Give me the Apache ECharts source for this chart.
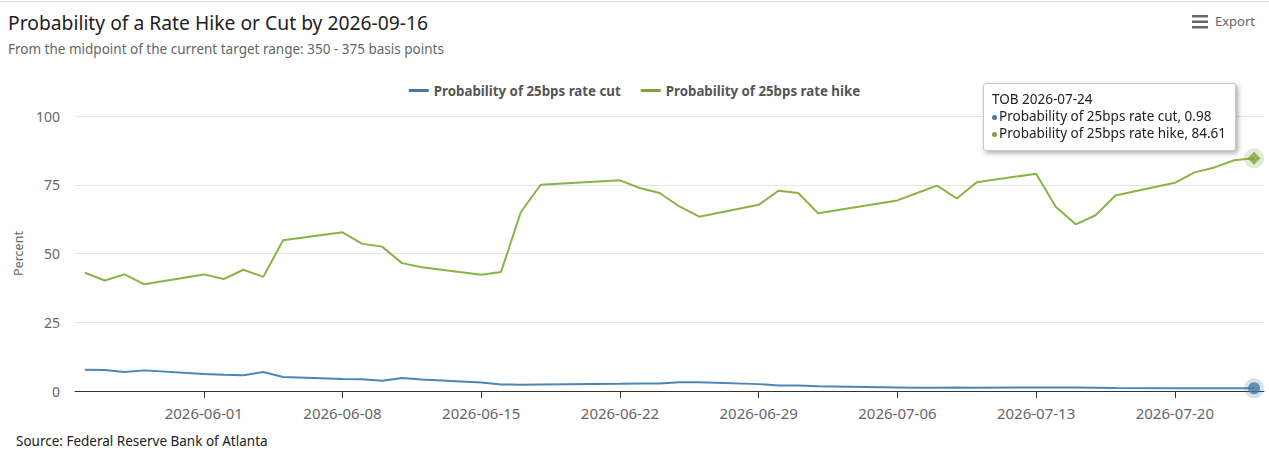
<!DOCTYPE html>
<html>
<head>
<meta charset="utf-8" />
<title>Probability of a Rate Hike or Cut</title>
<script src="https://cdn.jsdelivr.net/npm/echarts@6/dist/echarts.min.js"></script>
<style>
  html, body { margin: 0; padding: 0; background: #fff; }
  #main { width: 1269px; height: 456px; }
</style>
</head>
<body>
<div id="main"></div>
<script type="text/javascript">
// trading days (weekends and holidays have no data)
var dates = [
  '2026-05-26','2026-05-27','2026-05-28','2026-05-29',
  '2026-06-01','2026-06-02','2026-06-03','2026-06-04','2026-06-05',
  '2026-06-08','2026-06-09','2026-06-10','2026-06-11','2026-06-12',
  '2026-06-15','2026-06-16','2026-06-17','2026-06-18',
  '2026-06-22','2026-06-23','2026-06-24','2026-06-25','2026-06-26',
  '2026-06-29','2026-06-30','2026-07-01','2026-07-02',
  '2026-07-06','2026-07-07','2026-07-08','2026-07-09','2026-07-10',
  '2026-07-13','2026-07-14','2026-07-15','2026-07-16','2026-07-17',
  '2026-07-20','2026-07-21','2026-07-22','2026-07-23','2026-07-24'
];
var rateCut = [
  7.7, 7.6, 6.9, 7.5,
  6.2, 5.9, 5.7, 6.9, 5.1,
  4.4, 4.3, 3.7, 4.7, 4.2,
  3.1, 2.4, 2.3, 2.4,
  2.6, 2.7, 2.7, 3.2, 3.2,
  2.5, 2.0, 2.0, 1.7,
  1.3, 1.2, 1.2, 1.3, 1.2,
  1.3, 1.3, 1.3, 1.2, 1.1,
  1.0, 1.0, 1.0, 1.0, 0.98
];
var rateHike = [
  43.0, 40.2, 42.4, 38.8,
  42.4, 40.7, 44.1, 41.5, 54.8,
  57.7, 53.5, 52.5, 46.5, 45.0,
  42.3, 43.3, 65.1, 75.0,
  76.6, 73.8, 72.0, 67.1, 63.4,
  67.7, 72.8, 72.0, 64.6,
  69.3, 72.0, 74.7, 70.0, 75.9,
  79.0, 66.9, 60.6, 63.9, 71.1,
  75.7, 79.5, 81.3, 83.9, 84.61
];
var tickLabels = ['2026-06-01','2026-06-08','2026-06-15','2026-06-22','2026-06-29','2026-07-06','2026-07-13','2026-07-20'];
var yTicks = [0, 25, 50, 75, 100];

var cutName = 'Probability of 25bps rate cut';
var hikeName = 'Probability of 25bps rate hike';
var blue = '#4679a6';
var green = '#7fa23f';
var FONT = '"Noto Sans", sans-serif';

function pad(n) { return (n < 10 ? '0' : '') + n; }
// every calendar day from first to last date, so weekends keep their width
function calendarDays(a, b) {
  var p = a.split('-'), q = b.split('-');
  var d = new Date(+p[0], p[1] - 1, +p[2]);
  var end = new Date(+q[0], q[1] - 1, +q[2]);
  var res = [];
  while (d <= end) {
    res.push(d.getFullYear() + '-' + pad(d.getMonth() + 1) + '-' + pad(d.getDate()));
    d.setDate(d.getDate() + 1);
  }
  return res;
}
function pairs(vals) {
  var res = [];
  for (var i = 0; i < dates.length; i++) res.push([dates[i], vals[i]]);
  return res;
}
var last = dates.length - 1;
var days = calendarDays(dates[0], dates[last]);
var isTick = function (idx, val) { return tickLabels.indexOf(val) >= 0; };

var myChart = echarts.init(document.getElementById('main'), null, { renderer: 'svg' });

var option = {
  animation: false,
  backgroundColor: '#fff',
  textStyle: { fontFamily: FONT },
  title: [{
    text: 'Probability of a Rate Hike or Cut by 2026-09-16',
    subtext: 'From the midpoint of the current target range: 350 - 375 basis points',
    left: 3,
    top: 8,
    itemGap: 10,
    textStyle: { fontSize: 19.3, fontWeight: 'normal', color: '#222', fontFamily: FONT },
    subtextStyle: { fontSize: 13.5, color: '#666', fontFamily: FONT }
  }, {
    text: 'Source: Federal Reserve Bank of Atlanta',
    left: 11,
    top: 429,
    textStyle: { fontSize: 13.5, fontWeight: 'normal', color: '#222', fontFamily: FONT }
  }],
  legend: {
    left: 'center',
    top: 79,
    itemGap: 20,
    itemWidth: 20,
    itemHeight: 3,
    icon: 'rect',
    data: [cutName, hikeName],
    textStyle: { fontSize: 13.3, fontWeight: 'bold', color: '#555', fontFamily: FONT }
  },
  tooltip: {
    trigger: 'axis',
    axisPointer: { type: 'none' },
    alwaysShowContent: true,
    transitionDuration: 0,
    position: [983, 83],
    backgroundColor: '#fff',
    borderColor: '#c8c8c8',
    borderWidth: 1,
    padding: [7, 9, 8, 8],
    extraCssText: 'box-shadow: 2px 2px 5px rgba(0,0,0,0.35); border-radius: 3px; line-height: 17px;',
    textStyle: { fontSize: 13.5, color: '#222', fontFamily: FONT },
    formatter: function () {
      var dot = function (c) {
        return '<span style="display:inline-block;width:5px;height:5px;border-radius:50%;background:' + c + ';margin-right:2px;vertical-align:middle;"></span>';
      };
      return 'TOB ' + dates[last] + '<br/>' +
        dot(blue) + cutName + ', ' + rateCut[last] + '<br/>' +
        dot(green) + hikeName + ', ' + rateHike[last];
    }
  },
  grid: { left: 75, right: 5, top: 116, bottom: 65 },
  xAxis: {
    type: 'category',
    data: days,
    boundaryGap: true,
    axisLine: { show: true, lineStyle: { color: '#333', width: 1 } },
    axisTick: { show: true, length: 7, alignWithLabel: true, interval: isTick, lineStyle: { color: '#333' } },
    axisLabel: { interval: isTick, margin: 14, fontSize: 15, color: '#666', fontFamily: FONT },
    splitLine: { show: false }
  },
  yAxis: {
    type: 'value',
    min: yTicks[0],
    max: yTicks[yTicks.length - 1],
    interval: 25,
    name: 'Percent',
    nameLocation: 'middle',
    nameGap: 50,
    nameTextStyle: { fontSize: 12.5, color: '#666', fontFamily: FONT },
    axisLine: { show: false },
    axisTick: { show: false },
    axisLabel: { margin: 15, fontSize: 14, color: '#666', fontFamily: FONT },
    splitLine: { lineStyle: { color: '#e6e6e6', width: 1 } }
  },
  series: [
    {
      name: cutName,
      type: 'line',
      data: pairs(rateCut),
      showSymbol: false,
      symbol: 'none',
      lineStyle: { color: blue, width: 2 },
      itemStyle: { color: blue },
      z: 3
    },
    {
      name: hikeName,
      type: 'line',
      data: pairs(rateHike),
      showSymbol: false,
      symbol: 'none',
      lineStyle: { color: green, width: 2 },
      itemStyle: { color: green },
      z: 3
    },
    {
      // halo round the hovered points
      name: 'halo',
      type: 'scatter',
      silent: true,
      tooltip: { show: false },
      symbolSize: 20,
      data: [
        { value: [dates[last], rateCut[last]], itemStyle: { color: blue, opacity: 0.22 } },
        { value: [dates[last], rateHike[last]], itemStyle: { color: green, opacity: 0.22 } }
      ],
      z: 4
    },
    {
      name: 'marker',
      type: 'scatter',
      silent: true,
      tooltip: { show: false },
      data: [
        { value: [dates[last], rateCut[last]], symbol: 'circle', symbolSize: 12, itemStyle: { color: blue } },
        { value: [dates[last], rateHike[last]], symbol: 'diamond', symbolSize: 13, itemStyle: { color: green } }
      ],
      z: 5
    }
  ],
  graphic: [
    { type: 'line', shape: { x1: 0, y1: 1.5, x2: 1269, y2: 1.5 }, style: { stroke: '#dcdcdc', lineWidth: 1 } },
    { type: 'rect', shape: { x: 1192, y: 15, width: 16, height: 2.5 }, style: { fill: '#666' } },
    { type: 'rect', shape: { x: 1192, y: 20.5, width: 16, height: 2.5 }, style: { fill: '#666' } },
    { type: 'rect', shape: { x: 1192, y: 26, width: 16, height: 2.5 }, style: { fill: '#666' } },
    { type: 'text', left: 1215, top: 14, style: { text: 'Export', fontSize: 13, fill: '#666', fontFamily: FONT } }
  ]
};
myChart.setOption(option);
myChart.dispatchAction({ type: 'showTip', seriesIndex: 1, dataIndex: last });
</script>
</body>
</html>
